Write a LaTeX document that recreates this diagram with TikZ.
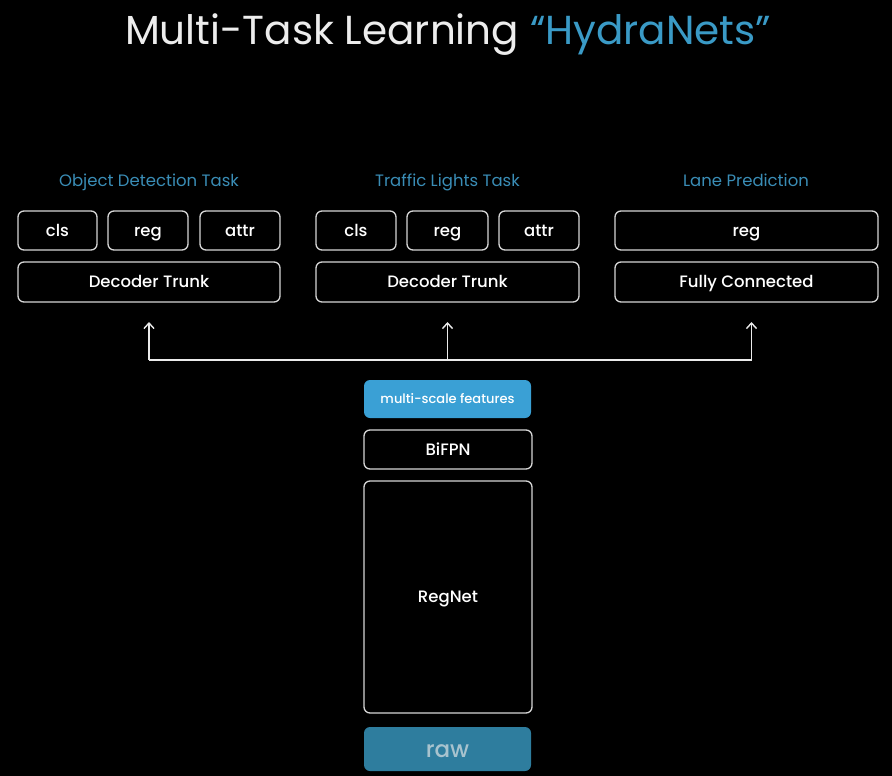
\documentclass[tikz,border=0pt]{standalone}
\usepackage{fontspec}
\setmainfont{Poppins}
\newfontfamily\medfont{Poppins Medium}
\usetikzlibrary{arrows.meta}
\definecolor{titleblue}{HTML}{3A9AC6}
\definecolor{labelblue}{HTML}{3A8DB6}
\definecolor{msblue}{HTML}{3AA0D5}
\definecolor{rawblue}{HTML}{2E7D9E}
\definecolor{rawtext}{HTML}{A8C3CE}
\definecolor{edge}{HTML}{D6D6D6}
\begin{document}
\begin{tikzpicture}[x=1pt,y=-1pt,
  box/.style={draw=edge, line width=1.3pt, rounded corners=6pt},
  boxtext/.style={text=white, font=\medfont\fontsize{16.5}{18}\selectfont, text height=14pt, text depth=2.5pt, inner sep=0pt},
  tasklabel/.style={text=labelblue, font=\fontsize{16.5}{18}\selectfont, text height=13pt, text depth=3pt},
  conn/.style={draw=white!92!black, line width=1.6pt},
  arr/.style={conn, -{Straight Barb[length=5.5pt,width=10pt,line width=1.4pt]}}]
\fill[black] (0,0) rectangle (892,776);
\useasboundingbox (0,0) rectangle (892,776);
% title
\node[text height=30pt, text depth=8pt] (title) at (448,34) {\fontsize{40.5}{44}\selectfont\textcolor{white!93!black}{Multi-Task Learning} \textcolor{titleblue}{“HydraNets”}};
% task labels
\node[tasklabel] (lodt) at (149,181) {Object Detection Task};
\node[tasklabel] (ltl) at (447.5,181) {Traffic Lights Task};
\node[tasklabel] (llp) at (746,181) {Lane Prediction};
% left column
\path[box] (18,211) rectangle node[boxtext] (acls) {cls} (97,250);
\path[box] (108,211) rectangle node[boxtext] (areg) {reg} (188,250);
\path[box] (200,211) rectangle node[boxtext] (aattr) {attr} (280,250);
\path[box] (18,262) rectangle node[boxtext] (adec) {Decoder Trunk} (280,302);
% middle column
\path[box] (316,211) rectangle node[boxtext] (bcls) {cls} (396,250);
\path[box] (407,211) rectangle node[boxtext] (breg) {reg} (488,250);
\path[box] (499,211) rectangle node[boxtext] (battr) {attr} (579,250);
\path[box] (316,262) rectangle node[boxtext] (bdec) {Decoder Trunk} (579,302);
% right column
\path[box] (615,211) rectangle node[boxtext] (creg) {reg} (878,250);
\path[box] (615,262) rectangle node[boxtext] (cfc) {Fully Connected} (878,302);
% connectors
\coordinate (ja) at (149,360);
\coordinate (jb) at (447.5,360);
\coordinate (jc) at (751.5,360);
\coordinate (ta) at (149,322);
\coordinate (tb) at (447.5,322);
\coordinate (tc) at (751.5,322);
\draw[conn] (ja) -- (jc);
\draw[arr] (ja) -- (ta);
\draw[arr] (jb) -- (tb);
\draw[arr] (jc) -- (tc);
% backbone
\path[fill=msblue, rounded corners=6pt] (364,380) rectangle node[boxtext, font=\medfont\fontsize{13}{15}\selectfont, text height=11pt, text depth=2pt] (ms) {multi-scale features} (531,418);
\path[box] (364,430) rectangle node[boxtext] (bifpn) {BiFPN} (532,469);
\path[box] (364,481) rectangle node[boxtext] (regnet) {RegNet} (532,713);
\path[fill=rawblue, rounded corners=6pt] (364,727) rectangle node[boxtext, text=rawtext, font=\medfont\fontsize{23}{25}\selectfont, text height=19pt, text depth=3pt] (raw) {raw} (531,771);
\end{tikzpicture}
\end{document}
